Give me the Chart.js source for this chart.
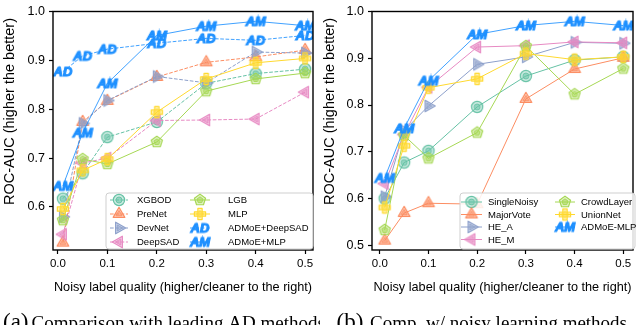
<!DOCTYPE html>
<html>
<head>
<meta charset="utf-8">
<script src="https://cdn.jsdelivr.net/npm/chart.js@4.4.1/dist/chart.umd.min.js"></script>
<style>
  html, body { margin: 0; padding: 0; background: #fff; overflow: hidden; }
  #wrap { position: relative; width: 640px; height: 325px; }
  canvas { position: absolute; top: 0; }
  #chartA { left: 0; }
  #chartB { left: 320px; }
</style>
</head>
<body>
<div id="wrap">
  <canvas id="chartA" width="320" height="325"></canvas>
  <canvas id="chartB" width="320" height="325"></canvas>
</div>
<script>
// noise level (x) shared by both panels
const noiseLevels = [0.01, 0.05, 0.1, 0.2, 0.3, 0.4, 0.5];
const xTicks = [0.0, 0.1, 0.2, 0.3, 0.4, 0.5];
const yTicksA = [0.6, 0.7, 0.8, 0.9, 1.0];
const yTicksB = [0.5, 0.6, 0.7, 0.8, 0.9, 1.0];

// panel (a): leading AD methods
const namesA = ["XGBOD", "PreNet", "DevNet", "DeepSAD", "LGB", "MLP", "ADMoE+DeepSAD", "ADMoE+MLP"];
const xgbod = [0.617, 0.669, 0.743, 0.774, 0.853, 0.873, 0.882];
const prenet = [0.527, 0.774, 0.817, 0.866, 0.896, 0.907, 0.921];
const devnet = [0.580, 0.771, 0.818, 0.867, 0.854, 0.917, 0.915];
const deepsad = [0.544, 0.690, 0.700, 0.777, 0.778, 0.780, 0.835];
const lgb = [0.573, 0.698, 0.688, 0.733, 0.837, 0.862, 0.874];
const mlp = [0.596, 0.675, 0.698, 0.794, 0.862, 0.895, 0.904];
const admoeDeepsad = [0.877, 0.909, 0.923, 0.935, 0.945, 0.941, 0.951];
const admoeMlpA = [0.643, 0.752, 0.853, 0.951, 0.970, 0.980, 0.971];

// panel (b): noisy-label learning methods
const namesB = ["SingleNoisy", "MajorVote", "HE_A", "HE_M", "CrowdLayer", "UnionNet", "ADMoE-MLP"];
const singleNoisy = [0.600, 0.677, 0.702, 0.796, 0.862, 0.896, 0.903];
const majorVote = [0.510, 0.569, 0.590, 0.588, 0.813, 0.877, 0.901];
const heA = [0.604, 0.745, 0.798, 0.887, 0.903, 0.934, 0.932];
const heM = [0.632, 0.737, 0.838, 0.924, 0.927, 0.935, 0.933];
const crowdLayer = [0.533, 0.735, 0.686, 0.741, 0.926, 0.823, 0.878];
const unionNet = [0.581, 0.713, 0.837, 0.856, 0.910, 0.897, 0.903];
const admoeMlpB = [0.644, 0.750, 0.852, 0.951, 0.970, 0.979, 0.970];

const TEAL = "#66c2a5", ORANGE = "#fc8d62", SLATE = "#8da0cb", PINK = "#e78ac3",
      GREEN = "#a6d854", YELLOW = "#ffd92f", BLUE = "#1e90ff";
const SANS = "'Liberation Sans', Arial, sans-serif";
const SERIF = "'Liberation Serif', 'Times New Roman', serif";

function alpha(hex, a) {
  const n = parseInt(hex.slice(1), 16);
  return `rgba(${(n >> 16) & 255},${(n >> 8) & 255},${n & 255},${a})`;
}

function shapePath(ctx, shape, cx, cy, r) {
  ctx.beginPath();
  if (shape === "circle") {
    ctx.arc(cx, cy, r, 0, Math.PI * 2);
  } else if (shape === "plus") {
    const w = r * 0.38;
    const pts = [[-w, -r], [w, -r], [w, -w], [r, -w], [r, w], [w, w], [w, r], [-w, r], [-w, w], [-r, w], [-r, -w], [-w, -w]];
    pts.forEach((p, i) => i ? ctx.lineTo(cx + p[0], cy + p[1]) : ctx.moveTo(cx + p[0], cy + p[1]));
  } else {
    let n = 3, start = -90, rr = r * 1.2;
    if (shape === "triRight") start = 0;
    if (shape === "triLeft") start = 180;
    if (shape === "pentagon") { n = 5; rr = r * 1.05; }
    for (let i = 0; i < n; i++) {
      const a = (start + i * 360 / n) * Math.PI / 180;
      const px = cx + rr * Math.cos(a), py = cy + rr * Math.sin(a);
      i ? ctx.lineTo(px, py) : ctx.moveTo(px, py);
    }
  }
  ctx.closePath();
}

function makeMarker(shape, color) {
  const c = document.createElement("canvas");
  c.width = 16; c.height = 16;
  const ctx = c.getContext("2d");
  ctx.lineJoin = "round";
  shapePath(ctx, shape, 8, 8, 5.6);
  ctx.fillStyle = alpha(color, 0.35);
  ctx.fill();
  ctx.strokeStyle = color;
  ctx.lineWidth = 1.2;
  ctx.stroke();
  shapePath(ctx, shape, 8, 8, 3);
  ctx.fillStyle = alpha(color, 0.55);
  ctx.fill();
  ctx.lineWidth = 0.9;
  ctx.stroke();
  return c;
}

function makeTextMarker(txt) {
  const c = document.createElement("canvas");
  c.width = 24; c.height = 15;
  const ctx = c.getContext("2d");
  ctx.font = `italic bold 13px ${SANS}`;
  ctx.textAlign = "center";
  ctx.textBaseline = "middle";
  ctx.fillStyle = BLUE;
  ctx.strokeStyle = BLUE;
  ctx.lineWidth = 1.1;
  ctx.strokeText(txt, 12, 8);
  ctx.fillText(txt, 12, 8);
  return c;
}

function series(label, values, color, marker, dashed) {
  return {
    label,
    data: values.map((v, i) => ({ x: noiseLevels[i], y: v })),
    borderColor: color,
    borderWidth: 1,
    borderDash: dashed ? [3.7, 1.6] : [],
    pointStyle: marker,
    pointRadius: 6,
    pointHoverRadius: 6,
    fill: false,
    tension: 0
  };
}

const frameAndExtras = {
  id: "frameAndExtras",
  afterDatasetsDraw(chart) {
    const { ctx, chartArea: a } = chart;
    ctx.save();
    ctx.strokeStyle = "#000";
    ctx.lineWidth = 1.4;
    ctx.strokeRect(a.left, a.top, a.right - a.left, a.bottom - a.top);
    ctx.restore();
  },
  afterDraw(chart) {
    const o = chart.options.plugins.frameAndExtras;
    const ctx = chart.ctx;
    ctx.save();
    // y axis title (sits a little above the axes centre in the source)
    ctx.save();
    ctx.translate(10, 111.5);
    ctx.rotate(-Math.PI / 2);
    ctx.font = `14.5px ${SANS}`;
    ctx.textAlign = "center";
    ctx.textBaseline = "middle";
    ctx.fillStyle = "#000";
    ctx.fillText("ROC-AUC (higher the better)", 0, 0);
    ctx.restore();
    // legend box
    const b = o.box;
    ctx.beginPath();
    ctx.roundRect(b[0], b[1], b[2] - b[0], b[3] - b[1], 3);
    ctx.fillStyle = "rgba(255,255,255,0.85)";
    ctx.fill();
    ctx.strokeStyle = "#cfcfcf";
    ctx.lineWidth = 1;
    ctx.stroke();
    ctx.font = `9.5px ${SANS}`;
    ctx.textBaseline = "middle";
    ctx.fillStyle = "#000";
    chart.data.datasets.forEach((ds, i) => {
      const col = o.cols[i < o.perCol ? 0 : 1];
      const y = o.rows[i % o.perCol];
      ctx.beginPath();
      ctx.setLineDash(ds.borderDash);
      ctx.strokeStyle = ds.borderColor;
      ctx.lineWidth = 1;
      ctx.moveTo(col[0], y);
      ctx.lineTo(col[1], y);
      ctx.stroke();
      ctx.setLineDash([]);
      const m = ds.pointStyle;
      ctx.drawImage(m, (col[0] + col[1]) / 2 - m.width / 2, y - m.height / 2);
      ctx.fillText(ds.label, col[2], y + 0.5);
    });
    // caption
    ctx.fillStyle = "#000";
    ctx.textBaseline = "alphabetic";
    ctx.font = `23px ${SERIF}`;
    ctx.fillText(o.tag, o.tagX, 328.5);
    ctx.font = `19px ${SERIF}`;
    ctx.fillText(o.caption, o.capX, 328.5);
    ctx.restore();
  }
};

function makeOptions(yMin, yMax, yTicks, xMin, xMax, yWidth, extras) {
  return {
    responsive: false,
    animation: false,
    layout: { padding: { top: 5, right: 4, left: 0, bottom: 25 } },
    plugins: { legend: { display: false }, tooltip: { enabled: false }, frameAndExtras: extras },
    scales: {
      x: {
        type: "linear", min: xMin, max: xMax,
        afterBuildTicks: s => { s.ticks = xTicks.map(v => ({ value: v })); },
        afterFit: s => { s.height = 50; },
        ticks: { font: { family: SANS, size: 11.5 }, color: "#000", padding: 3, maxRotation: 0, autoSkip: false,
                 callback: v => v.toFixed(1) },
        grid: { drawOnChartArea: false, tickLength: 4, tickColor: "#000", tickWidth: 1.2 },
        border: { display: false },
        title: { display: true, text: "Noisy label quality (higher/cleaner to the right)",
                 font: { family: SANS, size: 12.7 }, color: "#000", padding: { top: 0, bottom: 5 } }
      },
      y: {
        type: "linear", min: yMin, max: yMax,
        afterBuildTicks: s => { s.ticks = yTicks.map(v => ({ value: v })); },
        afterFit: s => { s.width = yWidth; },
        ticks: { font: { family: SANS, size: 12.5 }, color: "#000", padding: 4, callback: v => v.toFixed(1) },
        grid: { drawOnChartArea: false, tickLength: 4, tickColor: "#000", tickWidth: 1.2 },
        border: { display: false },
        title: { display: false }
      }
    }
  };
}

const amMarker = makeTextMarker("AM");
const adMarker = makeTextMarker("AD");

const dsA = [
  series(namesA[0], xgbod, TEAL, makeMarker("circle", TEAL), true),
  series(namesA[1], prenet, ORANGE, makeMarker("triUp", ORANGE), true),
  series(namesA[2], devnet, SLATE, makeMarker("triRight", SLATE), true),
  series(namesA[3], deepsad, PINK, makeMarker("triLeft", PINK), true),
  series(namesA[4], lgb, GREEN, makeMarker("pentagon", GREEN), false),
  series(namesA[5], mlp, YELLOW, makeMarker("plus", YELLOW), false),
  series(namesA[6], admoeDeepsad, alpha(BLUE, 0.85), adMarker, true),
  series(namesA[7], admoeMlpA, alpha(BLUE, 0.85), amMarker, false)
];
dsA.forEach((d, i) => { d.order = -i; });

const dsB = [
  series(namesB[0], singleNoisy, TEAL, makeMarker("circle", TEAL), false),
  series(namesB[1], majorVote, ORANGE, makeMarker("triUp", ORANGE), false),
  series(namesB[2], heA, SLATE, makeMarker("triRight", SLATE), false),
  series(namesB[3], heM, PINK, makeMarker("triLeft", PINK), false),
  series(namesB[4], crowdLayer, GREEN, makeMarker("pentagon", GREEN), false),
  series(namesB[5], unionNet, YELLOW, makeMarker("plus", YELLOW), false),
  series(namesB[6], admoeMlpB, alpha(BLUE, 0.85), amMarker, false)
];
dsB.forEach((d, i) => { d.order = -i; });

new Chart(document.getElementById("chartA"), {
  type: "line",
  data: { datasets: dsA },
  options: makeOptions(0.512, 1.0, yTicksA, -0.01, 0.516, 53, {
    box: [106, 193, 313, 249], perCol: 4,
    cols: [[110, 128, 137], [190, 210, 228]],
    rows: [200, 214, 228, 242],
    tag: "(a)", tagX: 3, caption: "Comparison with leading AD methods", capX: 31.5
  }),
  plugins: [frameAndExtras]
});

new Chart(document.getElementById("chartB"), {
  type: "line",
  data: { datasets: dsB },
  options: makeOptions(0.49, 1.0, yTicksB, -0.016, 0.52, 52, {
    box: [140, 193, 315, 249], perCol: 4,
    cols: [[141, 162, 168], [235, 255, 261]],
    rows: [202, 214.5, 227, 239.5],
    tag: "(b)", tagX: 16.5, caption: "Comp. w/ noisy learning methods", capX: 50
  }),
  plugins: [frameAndExtras]
});
</script>
</body>
</html>
